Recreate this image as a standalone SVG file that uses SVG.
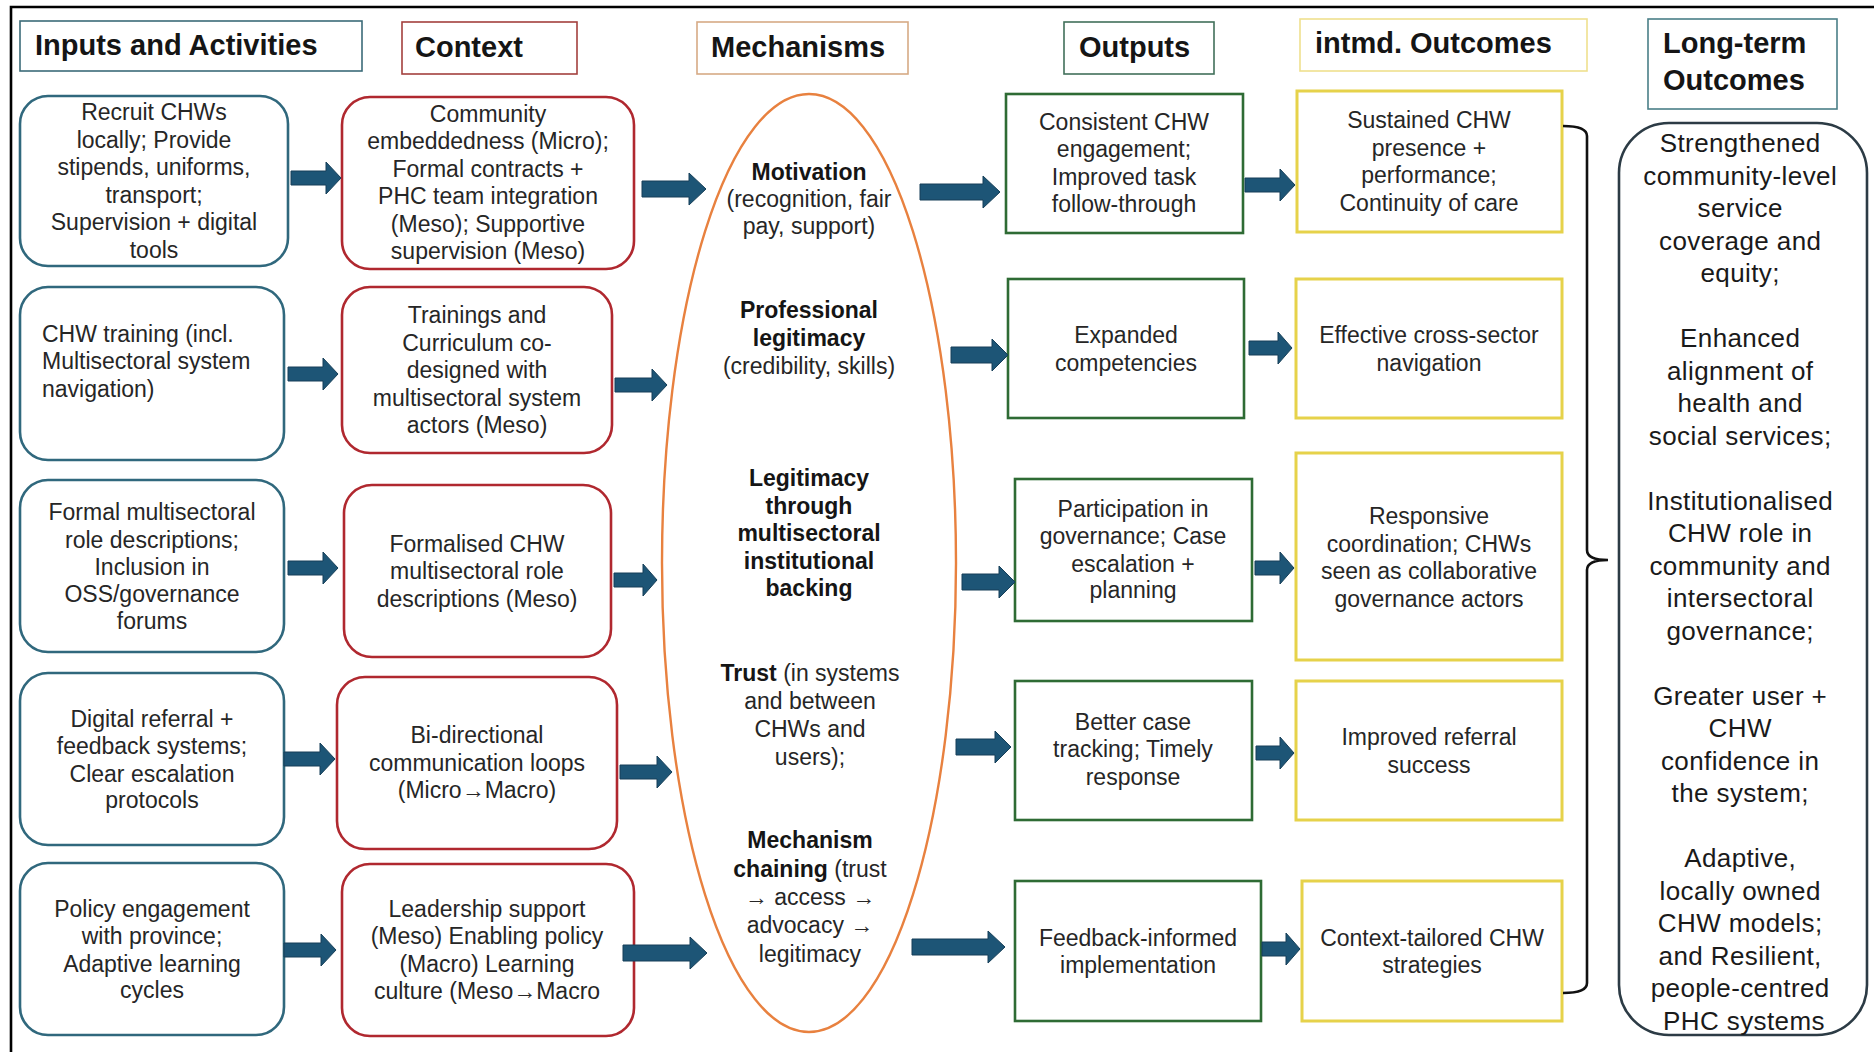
<svg xmlns="http://www.w3.org/2000/svg" width="1874" height="1052" viewBox="0 0 1874 1052">
<style>
  .hdr { font-family: "Liberation Sans", Arial, sans-serif; font-weight: bold; font-size: 29px; fill: #151515; }
  .t { font-family: "Liberation Sans", Arial, sans-serif; font-size: 23px; fill: #262626; text-anchor: middle; }
  .tl { font-family: "Liberation Sans", Arial, sans-serif; font-size: 23px; fill: #262626; }
  .b { font-weight: bold; fill: #151515; }
  .lt { font-family: "Liberation Sans", Arial, sans-serif; font-size: 26px; letter-spacing: 0.4px; fill: #1a1a1a; text-anchor: middle; }
  .inp { fill: #ffffff; stroke: #30687d; stroke-width: 2.6; }
  .ctx { fill: #ffffff; stroke: #b0282f; stroke-width: 2.6; }
  .out { fill: #ffffff; stroke: #2e6b34; stroke-width: 2.6; }
  .imd { fill: #ffffff; stroke: #e6d24a; stroke-width: 3; }
  .arr { fill: #1d5576; stroke: #163f58; stroke-width: 1; }
</style>

<path d="M11 1052 V7 H1874" fill="none" stroke="#000" stroke-width="2.6"/>

<!-- headers -->
<g id="hdr-inputs"><rect x="20" y="21" width="342" height="50" fill="#fff" stroke="#3b6b78" stroke-width="1.6"/><text class="hdr" x="35" y="55">Inputs and Activities</text></g>
<g id="hdr-context"><rect x="402" y="22" width="175" height="52" fill="#fff" stroke="#a3403e" stroke-width="1.6"/><text class="hdr" x="415" y="57">Context</text></g>
<g id="hdr-mech"><rect x="697" y="22" width="211" height="52" fill="#fff" stroke="#d6aa85" stroke-width="1.6"/><text class="hdr" x="711" y="57">Mechanisms</text></g>
<g id="hdr-outputs"><rect x="1064" y="22" width="150" height="52" fill="#fff" stroke="#41705a" stroke-width="1.6"/><text class="hdr" x="1079" y="57">Outputs</text></g>
<g id="hdr-intmd"><rect x="1300" y="19" width="287" height="52" fill="#fff" stroke="#efe08e" stroke-width="1.6"/><text class="hdr" x="1315" y="53">intmd. Outcomes</text></g>
<g id="hdr-long"><rect x="1648" y="19" width="189" height="90" fill="#fff" stroke="#4a7f88" stroke-width="1.6"/><text class="hdr" x="1663" y="53">Long-term</text><text class="hdr" x="1663" y="90">Outcomes</text></g>

<!-- inputs column -->
<g id="in1"><rect class="inp" x="20" y="96" width="268" height="170" rx="28"/>
<text class="t"><tspan x="154" y="120">Recruit CHWs</tspan><tspan x="154" y="148">locally; Provide</tspan><tspan x="154" y="175">stipends, uniforms,</tspan><tspan x="154" y="203">transport;</tspan><tspan x="154" y="230">Supervision + digital</tspan><tspan x="154" y="258">tools</tspan></text></g>
<g id="in2"><rect class="inp" x="20" y="287" width="264" height="173" rx="28"/>
<text class="tl"><tspan x="42" y="342">CHW training (incl.</tspan><tspan x="42" y="369">Multisectoral system</tspan><tspan x="42" y="397">navigation)</tspan></text></g>
<g id="in3"><rect class="inp" x="20" y="480" width="264" height="172" rx="28"/>
<text class="t"><tspan x="152" y="520">Formal multisectoral</tspan><tspan x="152" y="548">role descriptions;</tspan><tspan x="152" y="575">Inclusion in</tspan><tspan x="152" y="602">OSS/governance</tspan><tspan x="152" y="629">forums</tspan></text></g>
<g id="in4"><rect class="inp" x="20" y="673" width="264" height="172" rx="28"/>
<text class="t"><tspan x="152" y="727">Digital referral +</tspan><tspan x="152" y="754">feedback systems;</tspan><tspan x="152" y="782">Clear escalation</tspan><tspan x="152" y="808">protocols</tspan></text></g>
<g id="in5"><rect class="inp" x="20" y="863" width="264" height="172" rx="28"/>
<text class="t"><tspan x="152" y="917">Policy engagement</tspan><tspan x="152" y="944">with province;</tspan><tspan x="152" y="972">Adaptive learning</tspan><tspan x="152" y="998">cycles</tspan></text></g>

<!-- context column -->
<g id="ctx1"><rect class="ctx" x="342" y="97" width="292" height="172" rx="28"/>
<text class="t"><tspan x="488" y="122">Community</tspan><tspan x="488" y="149">embeddedness (Micro);</tspan><tspan x="488" y="177">Formal contracts +</tspan><tspan x="488" y="204">PHC team integration</tspan><tspan x="488" y="232">(Meso); Supportive</tspan><tspan x="488" y="259">supervision (Meso)</tspan></text></g>
<g id="ctx2"><rect class="ctx" x="342" y="287" width="270" height="166" rx="28"/>
<text class="t"><tspan x="477" y="323">Trainings and</tspan><tspan x="477" y="351">Curriculum co-</tspan><tspan x="477" y="378">designed with</tspan><tspan x="477" y="406">multisectoral system</tspan><tspan x="477" y="433">actors (Meso)</tspan></text></g>
<g id="ctx3"><rect class="ctx" x="344" y="485" width="267" height="172" rx="28"/>
<text class="t"><tspan x="477" y="552">Formalised CHW</tspan><tspan x="477" y="579">multisectoral role</tspan><tspan x="477" y="607">descriptions (Meso)</tspan></text></g>
<g id="ctx4"><rect class="ctx" x="337" y="677" width="280" height="172" rx="28"/>
<text class="t"><tspan x="477" y="743">Bi-directional</tspan><tspan x="477" y="771">communication loops</tspan><tspan x="477" y="798">(Micro→Macro)</tspan></text></g>
<g id="ctx5"><rect class="ctx" x="342" y="864" width="292" height="172" rx="28"/>
<text class="t"><tspan x="487" y="917">Leadership support</tspan><tspan x="487" y="944">(Meso) Enabling policy</tspan><tspan x="487" y="972">(Macro) Learning</tspan><tspan x="487" y="999">culture (Meso→Macro</tspan></text></g>

<!-- mechanisms ellipse -->
<g id="mechanisms">
<ellipse cx="809" cy="563" rx="147" ry="469" fill="none" stroke="#e8813f" stroke-width="2.4"/>
<text class="t"><tspan x="809" y="180" class="b">Motivation</tspan><tspan x="809" y="207">(recognition, fair</tspan><tspan x="809" y="234">pay, support)</tspan></text>
<text class="t"><tspan x="809" y="318" class="b">Professional</tspan><tspan x="809" y="346" class="b">legitimacy</tspan><tspan x="809" y="374">(credibility, skills)</tspan></text>
<text class="t b"><tspan x="809" y="486">Legitimacy</tspan><tspan x="809" y="514">through</tspan><tspan x="809" y="541">multisectoral</tspan><tspan x="809" y="569">institutional</tspan><tspan x="809" y="596">backing</tspan></text>
<text class="t"><tspan x="810" y="681"><tspan class="b">Trust</tspan> (in systems</tspan><tspan x="810" y="709">and between</tspan><tspan x="810" y="737">CHWs and</tspan><tspan x="810" y="765">users);</tspan></text>
<text class="t"><tspan x="810" y="848" class="b">Mechanism</tspan><tspan x="810" y="877"><tspan class="b">chaining</tspan> (trust</tspan><tspan x="810" y="905">→ access →</tspan><tspan x="810" y="933">advocacy →</tspan><tspan x="810" y="962">legitimacy</tspan></text>
</g>

<!-- outputs -->
<g id="out1"><rect class="out" x="1006" y="94" width="237" height="139"/>
<text class="t"><tspan x="1124" y="130">Consistent CHW</tspan><tspan x="1124" y="157">engagement;</tspan><tspan x="1124" y="185">Improved task</tspan><tspan x="1124" y="212">follow-through</tspan></text></g>
<g id="out2"><rect class="out" x="1008" y="279" width="236" height="139"/>
<text class="t"><tspan x="1126" y="343">Expanded</tspan><tspan x="1126" y="371">competencies</tspan></text></g>
<g id="out3"><rect class="out" x="1015" y="479" width="237" height="142"/>
<text class="t"><tspan x="1133" y="517">Participation in</tspan><tspan x="1133" y="544">governance; Case</tspan><tspan x="1133" y="572">escalation +</tspan><tspan x="1133" y="598">planning</tspan></text></g>
<g id="out4"><rect class="out" x="1015" y="681" width="237" height="139"/>
<text class="t"><tspan x="1133" y="730">Better case</tspan><tspan x="1133" y="757">tracking; Timely</tspan><tspan x="1133" y="785">response</tspan></text></g>
<g id="out5"><rect class="out" x="1015" y="881" width="246" height="140"/>
<text class="t"><tspan x="1138" y="946">Feedback-informed</tspan><tspan x="1138" y="973">implementation</tspan></text></g>

<!-- intermediate outcomes -->
<g id="im1"><rect class="imd" x="1297" y="91" width="265" height="141"/>
<text class="t"><tspan x="1429" y="128">Sustained CHW</tspan><tspan x="1429" y="156">presence +</tspan><tspan x="1429" y="183">performance;</tspan><tspan x="1429" y="211">Continuity of care</tspan></text></g>
<g id="im2"><rect class="imd" x="1296" y="279" width="266" height="139"/>
<text class="t"><tspan x="1429" y="343">Effective cross-sector</tspan><tspan x="1429" y="371">navigation</tspan></text></g>
<g id="im3"><rect class="imd" x="1296" y="453" width="266" height="207"/>
<text class="t"><tspan x="1429" y="524">Responsive</tspan><tspan x="1429" y="552">coordination; CHWs</tspan><tspan x="1429" y="579">seen as collaborative</tspan><tspan x="1429" y="607">governance actors</tspan></text></g>
<g id="im4"><rect class="imd" x="1296" y="681" width="266" height="139"/>
<text class="t"><tspan x="1429" y="745">Improved referral</tspan><tspan x="1429" y="773">success</tspan></text></g>
<g id="im5"><rect class="imd" x="1302" y="881" width="260" height="140"/>
<text class="t"><tspan x="1432" y="946">Context-tailored CHW</tspan><tspan x="1432" y="973">strategies</tspan></text></g>

<!-- long-term outcomes -->
<g id="longterm"><rect x="1619" y="123" width="248" height="912" rx="50" ry="50" fill="#fff" stroke="#2c3b45" stroke-width="2.6"/>
<text class="lt">
<tspan x="1744" y="152">Strengthened</tspan>
<tspan x="1744" y="184.5">community-level</tspan>
<tspan x="1744" y="217">service</tspan>
<tspan x="1744" y="249.5">coverage and</tspan>
<tspan x="1744" y="282">equity;</tspan>
<tspan x="1744" y="347">Enhanced</tspan>
<tspan x="1744" y="379.5">alignment of</tspan>
<tspan x="1744" y="412">health and</tspan>
<tspan x="1744" y="444.5">social services;</tspan>
<tspan x="1744" y="509.5">Institutionalised</tspan>
<tspan x="1744" y="542">CHW role in</tspan>
<tspan x="1744" y="574.5">community and</tspan>
<tspan x="1744" y="607">intersectoral</tspan>
<tspan x="1744" y="639.5">governance;</tspan>
<tspan x="1744" y="704.5">Greater user +</tspan>
<tspan x="1744" y="737">CHW</tspan>
<tspan x="1744" y="769.5">confidence in</tspan>
<tspan x="1744" y="802">the system;</tspan>
<tspan x="1744" y="867">Adaptive,</tspan>
<tspan x="1744" y="899.5">locally owned</tspan>
<tspan x="1744" y="932">CHW models;</tspan>
<tspan x="1744" y="964.5">and Resilient,</tspan>
<tspan x="1744" y="997">people-centred</tspan>
<tspan x="1744" y="1029.5">PHC systems</tspan>
</text></g>

<!-- connectors -->
<g id="connectors">
<path class="arr" d="M291 171 H326 V162 L341 178 L326 194 V185 H291 Z"/>
<path class="arr" d="M288 367 H323 V358 L338 374 L323 390 V381 H288 Z"/>
<path class="arr" d="M288 561 H323 V552 L338 568 L323 584 V575 H288 Z"/>
<path class="arr" d="M284 752 H320 V743 L335 759 L320 775 V766 H284 Z"/>
<path class="arr" d="M284 943 H321 V934 L336 950 L321 966 V957 H284 Z"/>
<path class="arr" d="M642 181 H689 V173 L706 189 L689 205 V197 H642 Z"/>
<path class="arr" d="M615 378 H652 V369 L667 385 L652 401 V392 H615 Z"/>
<path class="arr" d="M614 573 H643 V564 L657 580 L643 596 V587 H614 Z"/>
<path class="arr" d="M620 765 H657 V756 L672 772 L657 788 V779 H620 Z"/>
<path class="arr" d="M623 945 H690 V937 L707 953 L690 969 V961 H623 Z"/>
<path class="arr" d="M920 184 H983 V176 L1000 192 L983 208 V200 H920 Z"/>
<path class="arr" d="M951 347 H992 V339 L1008 355 L992 371 V363 H951 Z"/>
<path class="arr" d="M962 574 H999 V566 L1015 582 L999 598 V590 H962 Z"/>
<path class="arr" d="M956 739 H995 V731 L1011 747 L995 763 V755 H956 Z"/>
<path class="arr" d="M912 939 H988 V931 L1005 947 L988 963 V955 H912 Z"/>
<path class="arr" d="M1245 178 H1280 V169 L1295 185 L1280 201 V192 H1245 Z"/>
<path class="arr" d="M1249 341 H1278 V332 L1292 348 L1278 364 V355 H1249 Z"/>
<path class="arr" d="M1255 561 H1280 V552 L1294 568 L1280 584 V575 H1255 Z"/>
<path class="arr" d="M1256 746 H1280 V737 L1294 753 L1280 769 V760 H1256 Z"/>
<path class="arr" d="M1262 942 H1286 V933 L1300 949 L1286 965 V956 H1262 Z"/>
<path d="M1563 126 Q1587 126 1587 136 V550 Q1587 560 1608 560 Q1587 560 1587 570 V983 Q1587 993 1563 993" fill="none" stroke="#111" stroke-width="2.6"/>
</g>
</svg>
